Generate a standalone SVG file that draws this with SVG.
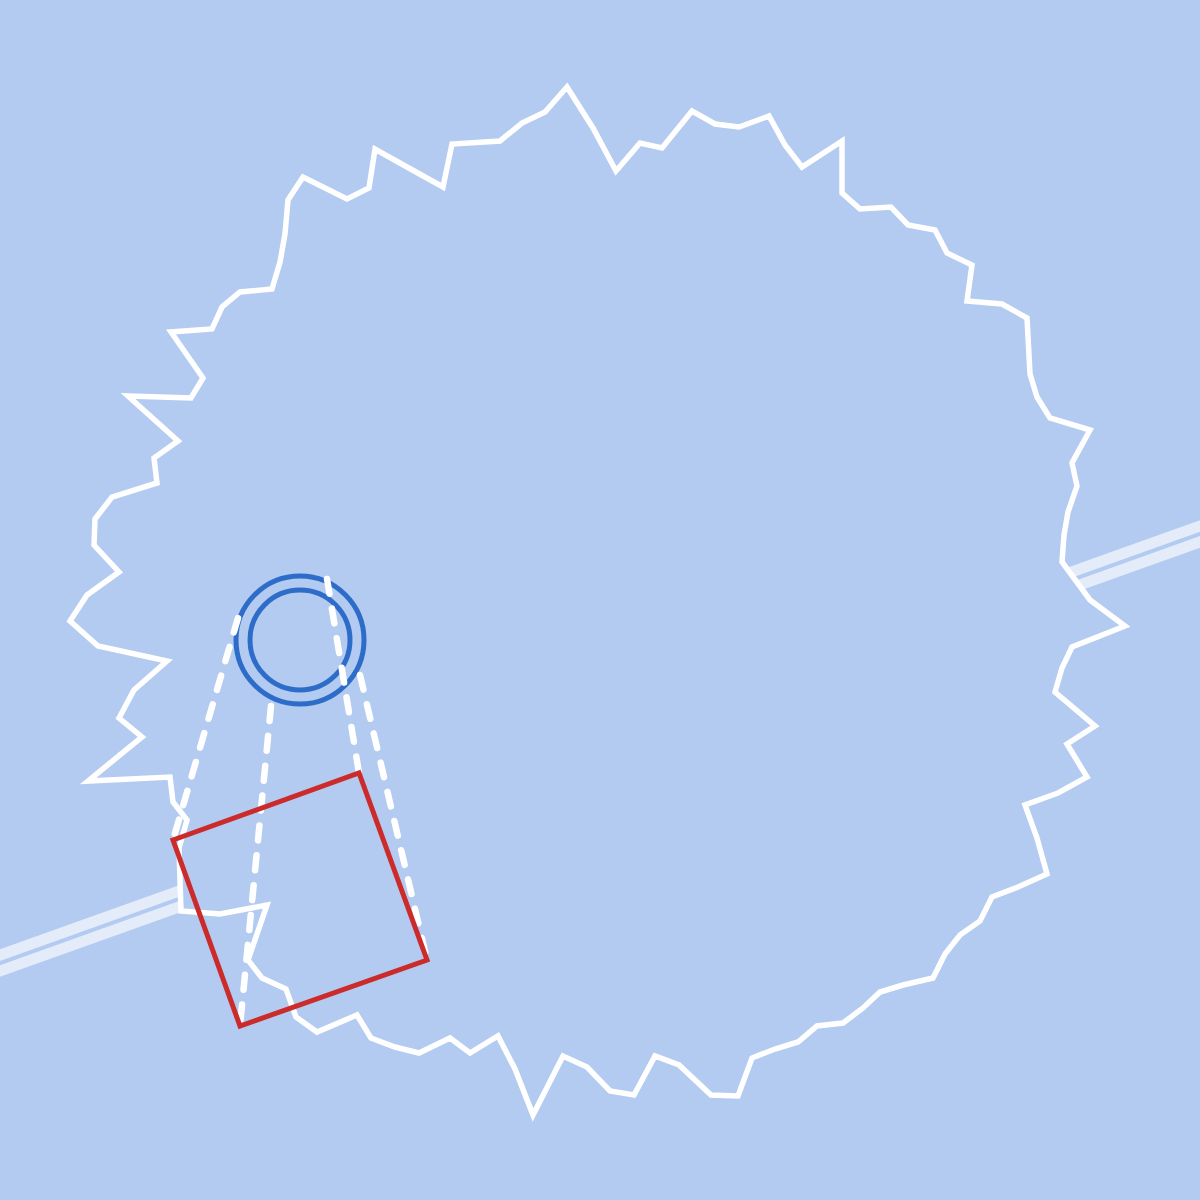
<svg xmlns="http://www.w3.org/2000/svg" width="1200" height="1200" viewBox="0 0 1200 1200">
  <style>
    .road-outer { stroke: #e4ecfa; stroke-width: 26; fill: none; }
    .road-inner { stroke: #b3cbf0; stroke-width: 4; fill: none; }
    .area { fill: #b3cbf0; stroke: #ffffff; stroke-width: 5.5; stroke-linejoin: miter; }
    .ring { fill: none; stroke: #2d6cc8; stroke-width: 5; }
    .sight { stroke: #ffffff; stroke-width: 6.5; stroke-dasharray: 15 15; stroke-linecap: round; fill: none; }
    .frame { fill: none; stroke: #cc2b2b; stroke-width: 5; stroke-linejoin: miter; }
  </style>
  <rect x="0" y="0" width="1200" height="1200" fill="#b3cbf0"/>
  <g id="road">
    <line class="road-outer" x1="-10" y1="966.6" x2="1210" y2="530.4"/>
    <line class="road-inner" x1="-10" y1="966.6" x2="1210" y2="530.4"/>
  </g>
  <g id="area">
    <polygon class="area" points="567,87 593,128 616,171 640,143 662,148 692,111 715,124 739,127 769,116 785,145 802,167 842,141 842,193 860,209 891,207 908,225 935,230 947,253 972,265 967,301 1002,304 1027,318 1030,374 1037,397 1050,418 1090,430 1072,463 1077,486 1068,512 1064,535 1062,562 1090,600 1125,626 1072,647 1062,668 1055,692 1095,726 1067,744 1087,777 1058,793 1025,805 1037,838 1047,874 1018,887 992,897 980,921 960,935 945,954 933,978 903,985 880,992 863,1008 843,1023 817,1026 798,1042 775,1049 752,1058 738,1096 711,1095 679,1065 655,1056 634,1095 610,1091 587,1067 563,1056 533,1115 515,1069 498,1036 470,1053 450,1038 419,1053 395,1047 371,1038 357,1015 317,1032 296,1017 286,989 262,978 248,960 267,905 220,914 181,911 179,848 187,820 173,802 170,777 88,781 142,737 119,718 134,690 167,661 98,646 70,621 87,595 119,572 94,545 95,519 112,497 157,483 154,458 178,441 128,396 191,398 203,378 171,332 212,329 222,307 240,292 272,289 280,262 285,234 288,200 303,177 347,199 369,188 375,149 407,167 443,187 452,144 500,141 522,123 545,112"/>
  </g>
  <g id="camera">
    <circle class="ring" cx="300" cy="640" r="64"/>
    <circle class="ring" cx="300" cy="640" r="50"/>
  </g>
  <g id="connectors">
    <line class="sight" x1="238" y1="618" x2="173" y2="840"/>
    <line class="sight" x1="271" y1="706" x2="240" y2="1026"/>
    <line class="sight" x1="327" y1="579" x2="359" y2="773"/>
    <line class="sight" x1="360" y1="675" x2="427" y2="960"/>
  </g>
  <g id="frame">
    <polygon class="frame" points="173,840 359,773 427,960 240,1026"/>
  </g>
</svg>
